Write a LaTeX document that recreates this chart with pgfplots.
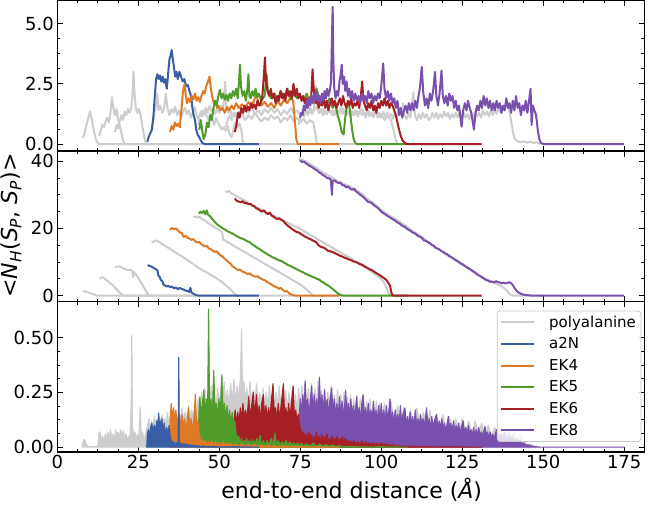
\documentclass[border=0pt]{standalone}
\usepackage{fontspec}
\setmainfont{DejaVu Sans}
\usepackage{pgfplots}
\pgfplotsset{compat=1.18}
\definecolor{cgray}{RGB}{205,205,205}
\definecolor{cblue}{RGB}{57,94,165}
\definecolor{corange}{RGB}{224,121,37}
\definecolor{cgreen}{RGB}{80,155,42}
\definecolor{cred}{RGB}{166,31,36}
\definecolor{cpurple}{RGB}{122,80,174}
\pgfplotsset{
  panel/.style={
    scale only axis, width=587pt, height=150.5pt,
    xmin=0, xmax=181.2,
    xtick={0,25,...,175}, minor x tick num=3, minor y tick num=3,
    tick align=inside, tick pos=both,
    major tick length=5.5pt, minor tick length=3pt,
    tick style={line width=0.8pt, black},
    axis line style={line width=1.1pt},
    tick label style={font=\fontsize{18}{21}\selectfont},
    /pgf/number format/assume math mode=true,
    anchor=south west,
    every axis plot/.append style={line width=2pt, line join=round},
  },
  nox/.style={xticklabels={}, xticklabel style={text opacity=0}},
}
\begin{document}
\begin{tikzpicture}
\path[use as bounding box] (-57.3pt,-52.3pt) rectangle (592.7pt,452pt);
% ---------------- top panel
\begin{axis}[panel, nox, at={(0pt,301pt)}, ymin=-0.285, ymax=5.96, ytick={0,2.5,5},
  yticklabel style={/pgf/number format/.cd, fixed, fixed zerofill, precision=1}]
\addplot[cgray] coordinates {(7.9,0.25)(8.4,0.45)(9.0,0.8)(9.6,1.1)(10.1,1.35)(10.6,1.05)(11.1,0.7)(11.6,0.35)(12.2,0.1)(12.8,0)(30,0)};
\addplot[cgray] coordinates {(12.9,0.35)(13.4,0.55)(13.9,0.8)(14.4,0.7)(14.9,0.95)(15.4,1.1)(15.9,0.9)(16.4,1.3)(16.9,1.95)(17.3,1.5)(17.8,1.2)(18.3,1.45)(18.8,1.0)(19.3,0.75)(19.8,0.45)(20.3,0.15)(20.8,0)(45,0)};
\addplot[cgray] coordinates {(17.8,0.5)(18.3,0.8)(18.8,0.65)(19.3,1.0)(19.8,1.2)(20.3,1.0)(20.8,1.35)(21.3,1.2)(21.8,1.45)(22.3,1.3)(22.8,1.5)(23.2,2.0)(23.5,3.0)(23.8,2.2)(24.2,1.5)(24.7,1.3)(25.2,1.45)(25.7,1.2)(26.2,0.8)(26.7,0.4)(27.2,0.1)(27.8,0)(55,0)};
\addplot[cgray] coordinates {(29.0,0.6)(29.5,0.9)(30.0,1.3)(30.6,1.7)(30.9,2.1)(31.2,1.4)(31.8,1.6)(32.4,1.3)(33.0,1.5)(33.5,2.1)(34.0,1.5)(34.6,1.2)(35.2,1.45)(35.8,1.3)(36.4,1.55)(37.0,1.2)(37.6,1.4)(38.2,1.1)(38.8,1.35)(39.4,1.5)(40.0,1.25)(40.6,1.4)(41.2,1.1)(41.8,1.3)(42.4,1.55)(43.0,1.2)(43.6,1.0)(44.2,1.3)(44.8,1.15)(45.4,1.4)(46.0,1.2)(46.6,1.0)(47.2,1.25)(47.8,1.1)(48.4,0.8)(49.0,1.1)(49.6,0.9)(50.2,0.75)(50.8,0.6)(51.4,0.7)(52.0,0.55)(52.6,0.75)(53.2,0.4)(53.8,0.3)(54.4,0.6)(55.0,0.9)(55.6,0.7)(56.2,0.85)(56.8,0.6)(57.2,0.15)(57.6,0)(75,0)};
\addplot[cgray] coordinates {(43.5,0.8)(44.0,1.2)(44.6,1.4)(45.2,1.2)(45.8,1.5)(46.4,1.3)(47.0,1.6)(47.6,1.35)(48.2,1.5)(48.8,1.25)(49.4,1.5)(50.0,1.3)(50.6,1.6)(51.2,1.4)(51.8,2.6)(52.2,1.5)(52.8,1.3)(53.4,1.4)(54.0,1.2)(55,1.3)(56,1.1)(57,1.25)(58,1.0)(59,1.2)(60,1.05)(61,1.3)(62,1.1)(63,0.95)(64,1.1)(65,1.0)(66,1.2)(67,1.05)(68,1.15)(69,0.9)(70,1.1)(71,1.0)(72,1.2)(73,0.95)(74,1.1)(75,0.9)(76,1.05)(77,0.85)(78,1.0)(79,0.9)(79.6,0.5)(80,0.1)(80.5,0)(100,0)};
\addplot[cgray] coordinates {(52,0.7)(52.6,1.0)(53.2,1.2)(53.8,1.0)(54.4,1.3)(55,1.15)(56,1.35)(57,1.2)(58,1.45)(59,1.3)(60,1.5)(61,1.25)(62,1.4)(63,1.2)(64,1.45)(65,1.3)(66,1.5)(67,1.3)(68,1.45)(69,1.2)(70,1.4)(71,1.25)(72,1.5)(73,1.3)(74,1.4)(75,1.2)(76,1.45)(77,1.3)(78,1.5)(79,1.35)(80,1.55)(81,1.3)(82,1.45)(83,1.25)(84,1.4)(85,1.2)(86,1.4)(87,1.3)(88,1.5)(89,1.3)(90,1.35)(91,1.2)(92,1.4)(93,1.3)(94,1.45)(95,1.25)(96,1.4)(97,1.2)(98,1.35)(99,1.1)(100,1.25)(101,1.0)(102,1.2)(103,1.0)(103.8,0.6)(104.4,0.2)(105,0)(120,0)};
\addplot[cgray] coordinates {(74.5,0.8)(75.0,1.1)(75.6,1.3)(76.2,1.15)(76.8,1.4)(77.4,1.2)(78.0,1.45)(78.6,1.25)(79.2,1.5)(79.8,2.4)(80.2,1.5)(80.8,1.3)(81.4,1.45)(82.0,1.2)(82.6,1.4)(83.2,1.25)(83.8,1.5)(84.4,1.3)(85.0,1.4)(85.6,1.2)(86.2,1.45)(86.8,1.3)(87.4,1.5)(88.0,1.25)(88.6,1.4)(89.2,1.2)(89.8,1.35)(90.4,1.15)(91.0,1.4)(91.6,1.2)(92.2,1.35)(92.8,1.15)(93.4,1.4)(94.0,1.2)(94.6,1.3)(95.2,1.1)(95.8,1.35)(96.4,1.15)(97.0,1.3)(97.6,1.1)(98.2,1.4)(98.8,1.2)(99.4,1.3)(100.0,1.1)(100.6,1.35)(101.2,1.15)(101.8,1.3)(102.4,1.1)(103.0,1.25)(103.6,1.05)(104.2,1.3)(104.8,1.1)(105.4,1.4)(106.0,1.2)(106.7,1.7)(107.2,1.2)(107.8,1.05)(108.4,1.3)(109.0,1.1)(109.9,2.15)(110.4,1.2)(111.0,1.0)(111.6,1.25)(112.2,1.05)(112.8,1.3)(113.4,1.1)(114.0,1.25)(114.6,1.0)(115.2,1.07)(115.8,1.3)(116.4,1.1)(117.0,1.3)(117.6,1.05)(118.2,1.25)(118.8,1.1)(119.4,1.35)(120.0,1.15)(120.6,1.3)(121.2,1.05)(121.8,1.25)(122.4,1.1)(123.0,1.3)(123.6,1.1)(124.2,1.35)(124.8,1.15)(125.4,1.3)(126.0,1.1)(126.6,1.25)(127.2,1.05)(127.8,1.3)(128.4,1.1)(129.0,1.35)(129.6,1.15)(130.2,1.3)(130.8,1.1)(131.4,1.4)(132.0,1.2)(132.6,1.35)(133.2,1.15)(133.8,1.4)(134.4,1.2)(135.0,1.45)(135.6,1.25)(136.2,1.5)(136.8,1.3)(137.4,1.6)(138.0,1.4)(138.7,1.8)(139.3,1.5)(139.8,1.2)(140.3,0.8)(140.8,0.4)(141.3,0.2)(142.0,0.12)(143,0.08)(144,0.12)(145,0.06)(146,0.1)(147,0.05)(148,0.08)(149,0)};
\addplot[cblue] coordinates {(27.8,0.1)(28.2,0.3)(28.7,0.45)(29.2,0.6)(29.7,1.2)(30.1,2.0)(30.5,2.7)(30.9,2.9)(31.3,2.7)(31.7,2.85)(32.1,2.6)(32.5,2.8)(32.9,2.55)(33.3,2.7)(33.8,2.3)(34.2,2.9)(34.6,3.5)(35.0,3.7)(35.3,3.9)(35.6,3.6)(36.0,3.2)(36.4,2.8)(36.8,3.0)(37.2,2.7)(37.7,3.0)(38.2,2.8)(38.7,2.6)(39.2,2.7)(39.8,2.4)(40.3,2.45)(40.8,2.2)(41.3,2.0)(41.7,1.5)(42.1,1.2)(42.5,1.0)(42.9,0.6)(43.3,0.4)(43.8,0.3)(44.3,0.15)(44.8,0.05)(45.5,0)(62.2,0)};
\addplot[corange] coordinates {(34.8,0.5)(35.3,0.75)(35.8,0.6)(36.3,0.9)(36.8,0.75)(37.3,0.85)(37.8,0.7)(38.3,1.4)(38.8,2.2)(39.3,2.5)(39.6,2.1)(40.0,1.7)(40.5,1.9)(41.0,1.75)(41.5,2.0)(42.0,1.85)(42.5,2.1)(43.0,1.8)(43.5,1.95)(44.0,1.75)(44.5,2.0)(45.0,2.2)(45.5,2.1)(46.0,2.4)(46.5,2.6)(47.0,2.8)(47.4,2.3)(47.8,2.0)(48.3,1.7)(48.8,1.8)(49.3,1.5)(49.8,1.6)(50.3,1.4)(51,1.5)(51.7,1.3)(52.4,1.55)(53.1,1.4)(53.8,1.6)(54.5,1.45)(55.2,1.7)(56,1.5)(57,1.65)(58,1.5)(59,1.75)(60,1.6)(61,1.9)(61.5,2.1)(62,1.7)(63,1.6)(64,1.75)(65,1.55)(66,1.7)(67,1.5)(68,1.8)(69,1.6)(70,1.85)(71,1.7)(72,1.95)(72.8,1.8)(73.3,1.0)(73.8,0.2)(74.2,0)(87,0)};
\addplot[cgreen] coordinates {(43.8,0.6)(44.3,1.0)(44.8,0.5)(45.2,0.2)(45.7,0.4)(46.2,0.9)(46.7,0.7)(47.2,1.2)(47.7,1.0)(48.2,1.5)(48.7,1.8)(49.2,1.6)(49.7,2.0)(50.2,2.25)(50.7,1.9)(51.2,2.1)(51.7,1.85)(52.2,2.05)(52.7,1.8)(53.2,2.1)(53.7,1.9)(54.2,2.2)(54.7,2.0)(55.2,2.3)(55.7,1.9)(56.1,2.6)(56.4,3.3)(56.7,2.4)(57.2,2.0)(57.7,2.2)(58.2,1.8)(58.7,2.3)(59.0,2.9)(59.3,2.0)(59.7,1.9)(60.2,2.2)(60.7,2.0)(61.2,2.3)(61.7,1.95)(62.2,2.1)(63,1.8)(64,2.0)(64.6,2.9)(65,2.2)(66,1.9)(67,2.1)(68,1.8)(69,2.2)(70,1.9)(71,2.3)(72,1.85)(73,2.1)(74,1.9)(75,2.0)(76,1.8)(77,2.1)(78,1.7)(79,1.9)(80,2.3)(81,1.8)(82,2.0)(83,1.6)(84,1.9)(85,1.5)(85.8,1.7)(86.5,1.2)(87.2,0.9)(87.8,0.5)(88.4,0.4)(88.8,1.0)(89.4,1.6)(90.0,1.7)(90.5,1.2)(91.0,0.6)(91.5,0.2)(92,0.05)(92.5,0)(108,0)};
\addplot[cred] coordinates {(54.8,0.5)(55.3,0.8)(55.8,1.3)(56.3,1.1)(56.8,1.5)(57.3,1.3)(57.8,1.6)(58.3,1.35)(58.8,1.55)(59.3,1.4)(59.8,1.7)(60.3,1.5)(60.8,1.65)(61.3,1.45)(61.8,1.8)(62.3,1.6)(62.8,1.7)(63.3,2.0)(63.8,2.9)(64.1,3.6)(64.4,2.6)(64.9,2.2)(65.4,2.0)(65.9,2.3)(66.4,1.9)(66.9,2.1)(67.4,1.7)(67.9,2.0)(68.4,1.8)(68.9,2.2)(69.4,1.9)(69.9,2.1)(70.4,1.8)(70.9,2.3)(71.4,2.0)(71.9,2.2)(72.4,1.9)(72.9,2.5)(73.4,2.0)(73.9,2.3)(74.4,1.9)(74.9,2.1)(75.4,1.8)(75.9,2.0)(76.4,1.7)(76.9,1.9)(77.4,1.6)(77.9,1.9)(78.4,2.0)(78.8,3.1)(79.2,2.2)(79.7,1.7)(80.2,1.9)(80.7,1.5)(81.2,1.8)(81.7,1.6)(82.2,1.9)(82.7,1.5)(83.2,1.8)(83.7,1.4)(84.2,1.7)(84.7,1.9)(85.2,1.6)(85.7,1.8)(86.2,1.5)(86.7,1.7)(87.2,1.9)(87.7,1.6)(88.2,2.0)(88.7,1.7)(89.2,1.5)(89.7,1.8)(90.2,1.6)(90.7,1.9)(91.2,1.5)(91.7,1.7)(92.2,1.6)(92.7,1.8)(93.2,1.5)(93.7,2.0)(94.1,2.6)(94.5,1.8)(95,1.6)(95.5,1.4)(96,1.7)(96.5,1.5)(97,1.8)(97.5,1.4)(98,1.6)(98.5,1.3)(99,1.7)(99.5,1.5)(100,1.8)(100.5,1.6)(101,1.9)(101.5,1.6)(102,1.8)(102.5,1.5)(103,1.7)(103.5,1.6)(104,1.4)(104.5,1.2)(105,0.9)(105.5,0.6)(106,0.35)(106.6,0.15)(107.3,0.05)(108,0)(131,0)};
\addplot[cpurple] coordinates {(74.9,1.1)(75.3,1.3)(75.7,1.2)(76.1,1.6)(76.5,1.4)(76.9,1.8)(77.3,1.5)(77.7,1.9)(78.1,1.6)(78.5,2.0)(78.9,1.7)(79.3,2.1)(79.7,1.8)(80.1,2.2)(80.5,1.8)(80.9,2.0)(81.3,1.7)(81.7,2.1)(82.1,1.8)(82.5,2.2)(82.9,1.9)(83.3,2.3)(83.7,2.0)(84.1,2.2)(84.5,2.6)(84.8,4.5)(85.0,5.7)(85.2,3.5)(85.5,2.3)(85.9,1.9)(86.3,2.2)(86.7,2.0)(87.1,2.6)(87.5,2.9)(87.8,3.3)(88.1,2.5)(88.5,2.8)(88.9,2.2)(89.3,2.6)(89.7,2.0)(90.1,2.3)(90.5,1.9)(91,2.2)(91.5,1.8)(92,2.1)(92.5,1.8)(93,2.0)(93.5,1.7)(94,2.1)(94.5,1.8)(95,2.0)(95.5,1.7)(96,2.2)(96.5,1.9)(97,2.1)(97.5,1.7)(98,2.0)(98.5,1.8)(99,2.1)(99.5,1.9)(100,2.4)(100.6,3.35)(101,2.3)(101.5,1.9)(102,2.2)(102.5,1.8)(103,2.1)(103.5,1.7)(104,1.9)(104.5,1.5)(105,1.8)(105.5,1.2)(106,1.5)(106.5,1.1)(107,1.4)(107.5,1.6)(108,1.3)(108.5,1.7)(109,1.4)(109.5,1.7)(110,1.4)(110.5,1.8)(111,1.5)(111.5,2.0)(112,2.4)(112.5,3.2)(113,2.1)(113.5,1.6)(114,1.9)(114.5,1.5)(115,2.1)(115.5,1.8)(116,2.2)(116.6,3.0)(117,2.0)(117.5,1.6)(118,2.1)(118.6,3.05)(119,2.0)(119.5,1.7)(120,2.0)(120.5,1.6)(121,2.1)(121.5,1.8)(122,2.0)(122.5,1.5)(123,1.8)(123.5,1.4)(124,1.6)(124.8,0.72)(125.3,1.4)(125.8,1.7)(126.3,1.4)(126.8,1.8)(127.3,1.5)(127.8,1.3)(128.6,0.6)(129.1,1.3)(129.6,1.6)(130.1,1.4)(130.6,1.8)(131.1,1.5)(131.6,2.0)(132.1,1.6)(132.6,1.9)(133.1,1.5)(133.6,1.8)(134.1,1.4)(134.6,1.7)(135.1,1.4)(135.6,1.8)(136.1,1.5)(136.6,1.7)(137.1,1.3)(137.6,1.6)(138.1,1.4)(138.6,1.9)(139.1,1.5)(139.6,1.7)(140.1,1.3)(140.6,1.8)(141.1,1.4)(141.6,2.0)(142.1,1.5)(142.6,1.7)(143.1,1.2)(143.6,1.6)(144.1,1.4)(144.6,1.8)(145.1,1.3)(145.6,1.8)(146.1,2.3)(146.4,0.8)(146.8,1.6)(147.3,1.4)(147.8,1.2)(148.3,0.6)(148.8,0.2)(149.3,0.05)(150,0)(175,0)};
\end{axis}
% ---------------- middle panel
\begin{axis}[panel, nox, at={(0pt,150.5pt)}, ymin=-1.75, ymax=43.04, ytick={0,20,40}]
\addplot[cgray] coordinates {(8.0,1.4)(8.5,1.3)(9.2,1.0)(9.9,0.8)(10.6,0.6)(11.3,0.4)(11.9,0.1)(12.4,0)(30,0)};
\addplot[cgray] coordinates {(13.0,5.0)(13.5,5.3)(14.0,5.5)(14.6,5.0)(15.2,4.6)(15.8,4.2)(16.4,3.6)(17.0,3.2)(17.6,2.6)(18.2,2.0)(18.8,1.4)(19.4,0.8)(20.0,0.3)(20.6,0)(45,0)};
\addplot[cgray] coordinates {(17.8,8.4)(18.3,8.6)(18.9,8.7)(19.5,8.6)(20.1,8.3)(20.7,7.9)(21.3,7.8)(21.9,7.6)(22.5,7.7)(23.1,7.4)(23.4,5.5)(23.7,7.0)(24.3,6.3)(24.9,5.4)(25.5,4.5)(26.1,3.5)(26.7,2.5)(27.3,1.5)(27.9,0.5)(28.5,0)(55,0)};
\addplot[cgray] coordinates {(29.1,15.8)(29.6,16.0)(30.1,16.3)(30.6,16.4)(31.1,16.2)(31.7,15.8)(32.3,15.4)(32.9,15.0)(33.5,14.7)(34.1,14.3)(34.7,14.0)(35.3,13.6)(35.9,13.2)(36.5,12.8)(37.1,12.5)(37.7,12.1)(38.3,11.8)(38.9,11.4)(39.5,11.0)(40.1,10.6)(40.7,10.2)(41.3,9.8)(41.9,9.4)(42.5,9.0)(43.1,8.6)(43.7,8.2)(44.3,7.9)(44.9,7.5)(45.5,7.2)(46.1,6.9)(46.7,6.6)(47.3,6.2)(47.9,5.9)(48.5,5.5)(49.1,5.2)(49.7,4.8)(50.3,4.4)(50.9,4.0)(51.5,3.5)(52.1,3.0)(52.7,2.5)(53.3,2.0)(53.9,1.4)(54.5,0.8)(55.0,0.3)(55.6,0)(75,0)};
\addplot[cgray] coordinates {(42.0,23.3)(42.6,23.6)(43.2,23.2)(43.8,23.5)(44.4,23.0)(45.0,22.6)(45.6,22.4)(46.2,21.8)(46.8,21.5)(47.4,21.0)(48.0,20.8)(48.6,20.3)(49.2,20.0)(49.8,19.6)(50.4,19.2)(50.9,18.8)(51.2,16.6)(51.8,16.4)(52.4,16.0)(53,15.7)(54,15.1)(55,14.5)(56,14.0)(57,13.4)(58,12.9)(59,12.3)(60,11.7)(61,11.2)(62,10.6)(63,10.1)(64,9.5)(65,8.9)(66,8.4)(67,7.8)(68,7.3)(69,6.7)(70,6.1)(71,5.6)(72,5.0)(73,4.4)(74,3.9)(75,3.3)(76,2.6)(77,1.8)(77.8,1.0)(78.5,0.4)(79.2,0)(100,0)};
\addplot[cgray] coordinates {(51.8,31.0)(52.4,30.8)(53.0,31.2)(53.6,30.5)(54.2,30.3)(54.8,29.9)(55.6,29.5)(56.4,29.0)(57.2,28.7)(58.0,28.2)(59,27.6)(60,27.0)(61,26.6)(62,26.0)(63,25.6)(64,25.1)(65,24.6)(66,24.2)(67,23.6)(68,23.2)(69,22.7)(70,22.2)(71,21.8)(72,21.3)(73,20.8)(74,20.4)(75,19.8)(76,19.3)(77,18.7)(78,18.2)(79,17.6)(80,17.0)(81,16.4)(82,15.9)(83,15.3)(84,14.8)(85,14.2)(86,13.6)(87,13.1)(88,12.5)(89,12.0)(90,11.4)(91,10.8)(92,10.2)(93,9.6)(94,9.0)(95,8.4)(96,7.8)(97,7.1)(98,6.4)(99,5.7)(100,4.9)(100.8,4.0)(101.4,2.8)(101.9,1.6)(102.4,0.5)(103,0)(120,0)};
\addplot[cgray] coordinates {(74.6,40.8)(76,40.3)(78,39.2)(80,38.0)(82,36.6)(84,35.6)(86,34.4)(88,33.4)(90,32.6)(92,31.6)(94,30.3)(96,28.6)(98,27.2)(100,25.5)(102,24.2)(104,23.0)(106,21.8)(108,20.5)(110,19.0)(112,17.9)(114,16.4)(116,14.8)(118,13.6)(120,12.2)(122,11.0)(124,9.8)(126,8.6)(128,7.4)(130,6.0)(132,5.0)(134,4.2)(136,3.3)(137,2.9)(138,2.2)(138.8,1.5)(139.5,0.6)(140.2,0.1)(141,0)(150,0)};
\addplot[cblue] coordinates {(27.9,9.1)(28.5,8.8)(29.2,8.6)(29.8,8.2)(30.4,7.9)(30.9,7.5)(31.2,6.0)(31.6,5.6)(32.0,4.6)(32.4,4.4)(32.8,3.2)(33.3,3.0)(33.8,2.7)(34.3,2.9)(34.8,2.5)(35.4,2.7)(36.0,2.2)(36.6,2.4)(37.2,1.9)(37.8,2.3)(38.4,2.0)(39.0,1.8)(39.6,1.5)(40.2,1.4)(40.7,1.1)(41.1,2.3)(41.4,1.0)(41.9,0.6)(42.5,0.3)(43.0,0.1)(43.6,0)(62.2,0)};
\addplot[corange] coordinates {(34.8,19.6)(35.4,20.1)(36.0,19.8)(36.6,20.0)(37.2,19.5)(37.8,18.8)(38.4,18.7)(39.0,17.5)(39.6,17.8)(40.2,17.2)(40.8,17.0)(41.4,16.6)(42.0,16.8)(42.6,16.2)(43.2,15.8)(43.8,16.0)(44.4,15.3)(45.0,15.0)(45.6,14.6)(46.2,14.8)(46.8,14.0)(47.4,13.8)(48.0,13.4)(48.6,13.0)(49.2,13.2)(49.8,12.5)(50.4,12.0)(51.0,11.6)(51.6,11.0)(52.2,10.6)(52.8,10.0)(53.4,9.6)(54.0,8.8)(54.6,8.4)(55.2,8.0)(55.8,7.6)(56.4,7.8)(57.0,7.2)(57.6,7.0)(58.2,6.7)(58.8,6.4)(59.4,6.6)(60.0,6.1)(60.6,5.9)(61.2,5.6)(61.8,5.8)(62.4,5.3)(63.0,5.0)(63.6,4.7)(64.2,4.5)(64.8,4.0)(65.4,3.7)(66.0,3.4)(66.6,3.0)(67.2,2.7)(67.8,2.5)(68.4,2.0)(69.0,2.3)(69.6,1.7)(70.2,1.2)(70.8,1.4)(71.4,0.8)(72.0,0.4)(72.6,0.2)(73.2,0.05)(73.8,0)(87,0)};
\addplot[cgreen] coordinates {(43.7,24.4)(44.2,25.0)(44.7,24.6)(45.2,25.2)(45.7,24.2)(46.1,25.4)(46.6,24.0)(47.2,23.6)(47.8,22.8)(48.4,22.2)(49.0,21.5)(49.6,21.0)(50.2,20.6)(50.8,20.2)(51.4,19.8)(52.0,19.6)(52.6,19.1)(53.2,18.9)(53.8,18.6)(54.4,18.3)(55.0,17.9)(55.6,17.6)(56.2,17.3)(56.8,17.0)(57.4,16.9)(58.0,16.5)(58.6,16.2)(59.2,16.0)(59.8,15.6)(60.4,15.1)(61.0,14.8)(61.6,14.3)(62.2,14.0)(62.8,13.6)(63.4,13.2)(64.0,12.8)(64.6,12.5)(65.2,12.1)(65.8,11.8)(66.4,11.4)(67.0,11.2)(67.6,10.9)(68.2,10.6)(68.8,10.4)(69.4,10.2)(70.0,9.8)(70.6,9.5)(71.2,9.1)(71.8,8.9)(72.4,8.6)(73.0,8.3)(73.6,8.0)(74.2,7.7)(74.8,7.4)(75.4,7.1)(76.0,6.9)(76.6,6.5)(77.2,6.3)(77.8,6.0)(78.4,5.8)(79.0,5.5)(79.6,5.3)(80.2,5.0)(80.8,4.8)(81.4,4.3)(82.0,4.0)(82.6,3.6)(83.2,3.2)(83.8,2.9)(84.4,2.4)(85.0,2.0)(85.6,1.5)(86.2,1.0)(86.8,0.5)(87.4,0.2)(88.0,0.05)(88.5,0)(108,0)};
\addplot[cred] coordinates {(54.8,28.9)(55.4,28.2)(56.0,28.0)(56.6,27.8)(57.2,28.1)(57.8,27.5)(58.4,27.6)(59.0,27.2)(59.6,27.3)(60.2,26.8)(60.8,26.6)(61.4,26.0)(62.0,25.8)(62.6,25.3)(63.2,25.0)(63.8,25.4)(64.4,24.6)(65.0,24.3)(65.6,24.7)(66.2,23.8)(66.8,23.5)(67.4,23.0)(68.0,22.8)(68.6,23.0)(69.2,22.5)(69.8,22.2)(70.4,21.5)(71.0,20.9)(71.6,20.5)(72.2,20.0)(72.8,19.6)(73.4,19.2)(74.0,18.9)(74.6,18.8)(75.2,18.3)(75.8,18.0)(76.4,17.6)(77.0,17.3)(77.6,17.0)(78.2,16.8)(78.8,16.4)(79.4,16.2)(80.0,15.8)(80.6,15.0)(81.2,14.6)(81.8,14.4)(82.4,14.2)(83.0,13.8)(83.6,13.3)(84.2,13.2)(84.8,13.0)(85.4,12.8)(86.0,12.5)(86.6,12.2)(87.2,11.9)(87.8,11.7)(88.4,11.4)(89.0,11.2)(89.6,10.9)(90.2,10.7)(90.8,10.5)(91.4,10.2)(92.0,10.0)(92.6,9.8)(93.2,9.5)(93.8,9.3)(94.4,9.0)(95.0,8.6)(95.6,8.3)(96.2,8.0)(96.8,7.7)(97.4,7.4)(98.0,7.0)(98.6,6.6)(99.2,6.3)(99.8,5.9)(100.4,5.5)(101.0,5.1)(101.6,4.6)(102.2,3.8)(102.7,3.0)(103.0,1.5)(103.3,0.3)(103.8,0)(131,0)};
\addplot[cpurple] coordinates {(74.9,40.3)(75.5,39.8)(76.1,39.9)(76.7,39.4)(77.3,39.0)(77.9,38.6)(78.5,38.3)(79.1,37.9)(79.7,37.5)(80.3,37.2)(80.9,36.6)(81.5,36.3)(82.1,35.8)(82.7,35.5)(83.3,35.0)(83.9,34.9)(84.4,34.6)(84.8,30.0)(85.0,34.2)(85.6,34.3)(86.2,33.8)(86.8,33.5)(87.4,33.6)(88.0,32.9)(88.6,32.8)(89.2,32.2)(89.8,32.5)(90.4,31.8)(91.0,31.5)(91.6,31.8)(92.2,31.0)(92.8,30.6)(93.4,30.1)(94.0,29.7)(94.6,29.2)(95.2,28.6)(95.8,28.0)(96.4,27.8)(97.0,27.6)(97.6,27.0)(98.2,26.6)(98.8,26.2)(99.4,25.6)(100.0,25.0)(100.6,24.6)(101.2,24.2)(101.8,23.8)(102.4,23.4)(103.0,23.1)(103.6,22.7)(104.2,22.4)(104.8,21.9)(105.4,21.6)(106.0,21.2)(106.6,20.7)(107.2,20.5)(107.8,20.0)(108.4,19.6)(109.0,19.3)(109.6,18.8)(110.2,18.6)(110.8,18.2)(111.4,17.7)(112.0,17.5)(112.6,17.1)(113.2,16.4)(113.8,16.3)(114.4,15.9)(115.0,15.6)(115.6,15.1)(116.2,14.9)(116.8,14.2)(117.4,14.0)(118.0,13.7)(118.6,13.2)(119.2,13.0)(119.8,12.5)(120.4,12.3)(121.0,11.8)(121.6,11.5)(122.2,11.1)(122.8,10.7)(123.4,10.4)(124.0,10.0)(124.6,9.6)(125.2,9.3)(125.8,8.8)(126.4,8.5)(127.0,8.1)(127.6,7.8)(128.2,7.3)(128.8,7.0)(129.4,6.5)(130.0,6.1)(130.6,5.8)(131.2,5.4)(131.8,5.0)(132.4,4.6)(133.0,4.5)(133.6,4.1)(134.2,4.2)(134.8,3.9)(135.4,4.3)(136.0,4.0)(136.6,3.9)(137.2,3.7)(137.8,3.9)(138.4,3.6)(139.0,3.8)(139.6,4.0)(140.2,3.6)(140.7,3.0)(141.2,2.2)(141.8,1.4)(142.4,0.9)(143.0,0.6)(143.8,0.3)(144.6,0.2)(145.5,0.1)(146.5,0)(175,0)};
\end{axis}
% ---------------- bottom panel
\begin{axis}[panel, at={(0pt,0pt)}, ymin=-0.022, ymax=0.665, ytick={0,0.25,0.5},
  yticklabel style={/pgf/number format/.cd, fixed, fixed zerofill, precision=2},
  legend style={at={(1,1)}, anchor=north east, xshift=-3pt, yshift=-9pt,
    font=\fontsize{15}{18}\selectfont, draw=black!22, line width=0.8pt,
    rounded corners=3pt, fill=white, fill opacity=0.8, text opacity=1, draw opacity=1,
    inner xsep=3pt, inner ysep=3pt, row sep=5pt,
    /tikz/every odd column/.append style={column sep=12pt}},
  legend cell align=left,
  legend image code/.code={\draw[#1, line width=2pt] (0pt,0pt) -- (33pt,0pt);}]
\addplot[cgray, fill=cgray, line width=1.1pt, forget plot] coordinates {(7.6,0)(7.9,0.02)(8.2,0.035)(8.6,0.03)(9.0,0.012)(9.5,0.003)(12.5,0.002)(12.8,0.06)(13.2,0.07)(13.6,0.03)(14.0,0.05)(14.4,0.02)(14.8,0.06)(15.2,0.04)(15.6,0.07)(16.0,0.03)(16.4,0.08)(16.8,0.04)(17.2,0.06)(17.6,0.03)(18.0,0.08)(18.4,0.05)(18.8,0.07)(19.2,0.04)(19.6,0.08)(20.0,0.05)(20.4,0.075)(20.8,0.04)(21.2,0.06)(21.6,0.03)(22.0,0.05)(22.4,0.04)(22.8,0.2)(23.0,0.51)(23.2,0.1)(23.6,0.05)(24.0,0.07)(24.4,0.03)(24.8,0.06)(25.2,0.04)(25.6,0.18)(25.9,0.05)(26.3,0.07)(26.7,0.03)(27.1,0.05)(27.5,0.08)(27.9,0.1)(28.3,0.13)(28.7,0.08)(29.1,0.12)(29.5,0.09)(30.0,0.14)(30.4,0.1)(30.8,0.13)(31.2,0.09)(31.6,0.14)(32.0,0.1)(32.4,0.15)(32.8,0.1)(33.2,0.13)(33.6,0.09)(34.0,0.16)(34.4,0.1)(34.8,0.14)(35.2,0.1)(35.6,0.15)(36.0,0.11)(36.5,0.17)(37.0,0.12)(37.5,0.16)(38.0,0.12)(38.5,0.18)(39.0,0.12)(39.5,0.16)(40.0,0.12)(40.5,0.19)(41.0,0.13)(41.5,0.17)(42.0,0.12)(42.5,0.2)(43.0,0.14)(43.5,0.22)(44.0,0.15)(44.5,0.25)(45.0,0.16)(45.5,0.27)(46.0,0.17)(46.5,0.24)(47.0,0.17)(47.5,0.28)(48.0,0.18)(48.5,0.25)(49.0,0.18)(49.5,0.27)(50.0,0.19)(50.5,0.28)(51.0,0.18)(51.5,0.3)(52.0,0.2)(52.5,0.26)(53.0,0.19)(53.5,0.29)(54.0,0.2)(54.5,0.31)(55.0,0.2)(55.5,0.28)(56.0,0.21)(56.5,0.32)(56.9,0.54)(57.2,0.22)(57.6,0.3)(58.0,0.21)(58.5,0.27)(59.0,0.2)(59.5,0.3)(60.0,0.2)(60.5,0.26)(61.0,0.2)(61.5,0.29)(62.0,0.2)(62.5,0.25)(63.0,0.19)(63.5,0.27)(64.0,0.18)(64.5,0.25)(65.0,0.19)(65.5,0.28)(66.0,0.18)(66.5,0.26)(67.0,0.18)(67.5,0.25)(68.0,0.18)(68.5,0.28)(69.0,0.18)(69.5,0.24)(70.0,0.18)(70.5,0.26)(71.0,0.17)(71.5,0.25)(72.0,0.17)(72.5,0.26)(73.0,0.17)(73.5,0.24)(74.0,0.17)(74.5,0.27)(75.0,0.18)(75.5,0.28)(76.0,0.18)(76.5,0.31)(77.0,0.18)(77.5,0.27)(78.0,0.18)(78.5,0.29)(79.0,0.18)(79.5,0.27)(80.0,0.19)(80.5,0.3)(81.0,0.18)(81.5,0.26)(82.0,0.17)(82.5,0.27)(83.0,0.17)(83.5,0.25)(84.0,0.17)(84.5,0.28)(85.0,0.16)(85.5,0.24)(86.0,0.16)(86.5,0.26)(87.0,0.16)(87.5,0.24)(88.0,0.15)(88.5,0.25)(89.0,0.16)(89.5,0.23)(90.0,0.15)(90.5,0.24)(91.0,0.15)(91.5,0.22)(92.0,0.14)(92.5,0.24)(93.0,0.14)(93.5,0.22)(94.0,0.14)(94.5,0.23)(95.0,0.14)(95.5,0.21)(96.0,0.13)(96.5,0.22)(97.0,0.13)(97.5,0.2)(98.0,0.13)(98.5,0.21)(99.0,0.12)(99.5,0.2)(100,0.12)(101,0.2)(102,0.12)(103,0.21)(104,0.11)(105,0.19)(106,0.11)(107,0.18)(108,0.1)(109,0.17)(110,0.1)(111,0.18)(112,0.1)(113,0.16)(114,0.09)(115,0.17)(116,0.09)(117,0.15)(118,0.08)(119,0.15)(120,0.08)(121,0.14)(122,0.08)(123,0.13)(124,0.07)(125,0.13)(126,0.07)(127,0.12)(128,0.06)(129,0.12)(130,0.06)(131,0.11)(132,0.06)(133,0.1)(134,0.05)(135,0.09)(136,0.05)(137,0.09)(138,0.04)(139,0.08)(140,0.04)(141,0.07)(142,0.03)(143,0.06)(143.5,0.02)(144,0.03)(145,0.01)(146,0.015)(147,0.005)(149,0)} \closedcycle;
\addplot[cpurple, fill=cpurple, line width=1.1pt, forget plot] coordinates {(74.4,0)(74.6,0.12)(75.0,0.22)(75.4,0.15)(75.8,0.24)(76.2,0.16)(76.5,0.30)(76.9,0.17)(77.3,0.22)(77.7,0.15)(78.1,0.21)(78.5,0.28)(78.9,0.16)(79.3,0.24)(79.7,0.17)(80.1,0.22)(80.5,0.15)(80.9,0.32)(81.3,0.17)(81.7,0.24)(82.1,0.15)(82.5,0.26)(82.9,0.16)(83.3,0.22)(83.7,0.14)(84.1,0.21)(84.7,0.27)(85.1,0.15)(85.5,0.22)(85.9,0.14)(86.3,0.2)(86.7,0.13)(87.1,0.23)(87.5,0.15)(87.9,0.21)(88.3,0.14)(88.7,0.19)(89.0,0.26)(89.4,0.15)(89.8,0.2)(90.2,0.13)(90.6,0.22)(91.0,0.14)(91.4,0.19)(91.8,0.13)(92.4,0.23)(92.8,0.14)(93.2,0.18)(93.6,0.12)(94.0,0.2)(94.4,0.24)(94.8,0.13)(95.2,0.18)(95.6,0.12)(96.0,0.2)(96.4,0.13)(96.8,0.17)(97.2,0.12)(97.6,0.21)(98.0,0.13)(98.4,0.17)(98.8,0.11)(99.2,0.19)(99.6,0.12)(100.0,0.2)(100.4,0.12)(100.8,0.17)(101.2,0.11)(101.6,0.19)(102.0,0.12)(102.7,0.22)(103.1,0.12)(103.5,0.16)(103.9,0.1)(104.3,0.17)(104.7,0.11)(105.1,0.15)(105.5,0.1)(105.9,0.19)(106.3,0.11)(106.7,0.15)(107.3,0.18)(107.7,0.1)(108.1,0.14)(108.5,0.09)(108.9,0.16)(109.3,0.1)(109.7,0.14)(110.1,0.09)(110.5,0.17)(110.9,0.1)(111.3,0.13)(111.7,0.09)(112.1,0.15)(112.5,0.1)(112.9,0.13)(113.3,0.09)(114.0,0.18)(114.4,0.09)(114.8,0.13)(115.2,0.08)(115.6,0.14)(116.0,0.09)(116.4,0.12)(117.1,0.15)(117.5,0.08)(117.9,0.12)(118.3,0.08)(118.7,0.13)(119.1,0.08)(119.5,0.11)(119.9,0.07)(120.7,0.14)(121.1,0.08)(121.5,0.11)(121.9,0.07)(122.3,0.12)(122.7,0.07)(123.1,0.1)(123.5,0.07)(123.9,0.11)(124.3,0.06)(124.7,0.09)(125.3,0.12)(125.7,0.06)(126.1,0.09)(126.5,0.06)(126.9,0.1)(127.3,0.06)(127.7,0.08)(128.1,0.05)(128.5,0.09)(128.9,0.05)(129.3,0.08)(129.7,0.05)(130.1,0.09)(130.5,0.05)(130.9,0.07)(131.3,0.05)(132.0,0.095)(132.4,0.05)(132.8,0.07)(133.2,0.04)(133.6,0.07)(134.0,0.04)(134.4,0.06)(134.8,0.04)(135.6,0.08)(136.0,0.04)(136.4,0.06)(136.8,0.03)(137.2,0.06)(137.6,0.03)(138.0,0.07)(138.4,0.03)(138.8,0.05)(139.2,0.03)(139.6,0.06)(140.0,0.03)(140.4,0.05)(140.8,0.02)(141.2,0.04)(141.6,0.02)(142.0,0.04)(142.5,0.02)(143.0,0.03)(143.5,0.015)(144.0,0.02)(144.5,0.01)(145.5,0.01)(146.5,0.005)(147.5,0.003)(148.5,0)(175,0)} \closedcycle;
\addplot[cred, fill=cred, line width=1.1pt, forget plot] coordinates {(54.3,0)(54.5,0.12)(54.9,0.17)(55.3,0.1)(55.7,0.16)(56.1,0.11)(56.5,0.18)(56.9,0.12)(57.3,0.2)(57.7,0.13)(58.1,0.17)(58.5,0.12)(59.1,0.23)(59.5,0.13)(59.9,0.18)(60.5,0.25)(60.9,0.14)(61.5,0.24)(61.9,0.13)(62.3,0.19)(62.7,0.12)(63.1,0.2)(63.6,0.24)(64.0,0.13)(64.4,0.19)(64.8,0.12)(65.2,0.18)(65.6,0.13)(66.0,0.2)(66.6,0.29)(67.0,0.14)(67.4,0.18)(67.8,0.12)(68.2,0.2)(68.6,0.13)(69.0,0.18)(69.8,0.29)(70.2,0.13)(70.6,0.18)(71.0,0.12)(71.4,0.2)(71.8,0.13)(72.2,0.19)(72.8,0.28)(73.2,0.13)(73.6,0.17)(74.0,0.12)(74.4,0.15)(74.8,0.1)(75.2,0.08)(75.6,0.05)(76.0,0.07)(76.4,0.04)(76.8,0.06)(77.2,0.03)(77.6,0.07)(78.0,0.04)(78.4,0.06)(78.8,0.03)(79.2,0.05)(79.6,0.03)(80.0,0.07)(80.4,0.03)(80.8,0.05)(81.2,0.02)(81.6,0.06)(82.0,0.03)(82.4,0.05)(82.8,0.02)(83.2,0.06)(83.6,0.03)(84.0,0.04)(84.4,0.02)(84.8,0.05)(85.2,0.02)(85.6,0.04)(86.0,0.02)(86.4,0.05)(86.8,0.02)(87.2,0.04)(87.6,0.02)(88.0,0.05)(88.4,0.02)(88.8,0.04)(89.2,0.02)(89.6,0.035)(90.0,0.015)(90.4,0.03)(91,0.015)(91.6,0.03)(92.2,0.012)(92.8,0.025)(93.4,0.01)(94.0,0.03)(94.6,0.01)(95.2,0.025)(95.8,0.01)(96.4,0.02)(97.0,0.01)(97.6,0.02)(98.2,0.008)(98.8,0.018)(99.4,0.008)(100.0,0.02)(100.6,0.008)(101.2,0.015)(101.8,0.006)(102.4,0.014)(103.0,0.005)(103.6,0.012)(104.2,0.004)(105,0.008)(106,0.003)(107,0.006)(108,0.002)(110,0.005)(112,0.002)(114,0.004)(116,0.001)(120,0.002)(125,0.001)(131,0)} \closedcycle;
\addplot[cgreen, fill=cgreen, line width=1.1pt, forget plot] coordinates {(43.5,0)(43.7,0.15)(44.0,0.23)(44.4,0.14)(44.8,0.2)(45.2,0.26)(45.6,0.15)(46.0,0.22)(46.4,0.16)(46.7,0.63)(47.0,0.17)(47.4,0.22)(47.8,0.14)(48.3,0.35)(48.7,0.15)(49.1,0.2)(49.5,0.13)(49.9,0.22)(50.3,0.14)(50.8,0.33)(51.2,0.14)(51.6,0.2)(52.0,0.12)(52.4,0.19)(52.8,0.11)(53.2,0.17)(53.6,0.1)(54.0,0.16)(54.4,0.09)(54.8,0.12)(55.2,0.06)(55.6,0.04)(56.0,0.05)(56.4,0.02)(56.8,0.04)(57.2,0.02)(57.6,0.03)(58.0,0.015)(58.4,0.04)(58.8,0.015)(59.2,0.03)(59.6,0.01)(60,0.035)(60.4,0.01)(60.8,0.03)(61.2,0.01)(61.6,0.04)(62.0,0.01)(62.6,0.055)(63.0,0.01)(63.6,0.03)(64.2,0.01)(64.8,0.03)(65.4,0.01)(66.0,0.04)(66.6,0.01)(67.2,0.065)(67.6,0.01)(68.2,0.03)(68.8,0.01)(69.4,0.025)(70.0,0.01)(70.6,0.03)(71.2,0.01)(71.8,0.025)(72.4,0.01)(73,0.02)(73.6,0.008)(74.2,0.02)(74.8,0.008)(75.4,0.018)(76,0.006)(77,0.015)(78,0.005)(79,0.02)(80,0.005)(81,0.014)(82,0.004)(83,0.012)(84,0.004)(85,0.01)(86,0.003)(87,0.008)(88,0.002)(90,0.004)(94,0.001)(100,0.002)(108,0)} \closedcycle;
\addplot[corange, fill=corange, line width=1.1pt, forget plot] coordinates {(34.7,0)(34.9,0.15)(35.2,0.2)(35.5,0.12)(35.9,0.18)(36.3,0.11)(36.6,0.17)(37.0,0.1)(37.4,0.14)(37.8,0.09)(38.2,0.13)(38.5,0.15)(38.9,0.09)(39.3,0.13)(39.7,0.08)(40.1,0.12)(40.5,0.18)(40.9,0.09)(41.3,0.13)(41.7,0.08)(42.1,0.12)(42.6,0.24)(43.0,0.1)(43.4,0.12)(43.8,0.06)(44.2,0.04)(44.6,0.02)(45.0,0.035)(45.4,0.01)(45.8,0.03)(46.2,0.01)(46.6,0.025)(47.0,0.01)(47.6,0.03)(48.2,0.01)(48.8,0.025)(49.4,0.008)(50.0,0.02)(50.6,0.008)(51.2,0.025)(51.8,0.008)(52.4,0.02)(53.0,0.006)(53.6,0.018)(54.2,0.006)(55,0.015)(56,0.005)(57,0.015)(58,0.004)(59,0.012)(60,0.004)(61,0.012)(62,0.003)(63,0.01)(64,0.003)(65,0.01)(66,0.002)(67,0.008)(68,0.002)(70,0.006)(72,0.002)(74,0.004)(76,0.001)(80,0.002)(87,0)} \closedcycle;
\addplot[cblue, fill=cblue, line width=1.1pt, forget plot] coordinates {(27.6,0)(27.8,0.06)(28.1,0.08)(28.4,0.05)(28.8,0.09)(29.2,0.11)(29.5,0.06)(29.9,0.1)(30.3,0.07)(30.7,0.12)(31.0,0.08)(31.3,0.155)(31.6,0.09)(32.0,0.12)(32.3,0.13)(32.6,0.07)(33.0,0.11)(33.4,0.06)(33.8,0.09)(34.2,0.05)(34.5,0.1)(34.9,0.04)(35.3,0.03)(35.7,0.015)(36.1,0.025)(36.5,0.01)(36.9,0.02)(37.3,0.01)(37.5,0.41)(37.7,0.01)(38.1,0.02)(38.5,0.008)(39.0,0.018)(39.5,0.006)(40.0,0.015)(40.5,0.005)(41.0,0.012)(41.5,0.004)(42.0,0.01)(42.5,0.004)(43.0,0.008)(44,0.003)(45,0.006)(46,0.002)(48,0.004)(50,0.001)(55,0.002)(62.2,0)} \closedcycle;
\addlegendimage{cgray}\addlegendentry{polyalanine}
\addlegendimage{cblue}\addlegendentry{a2N}
\addlegendimage{corange}\addlegendentry{EK4}
\addlegendimage{cgreen}\addlegendentry{EK5}
\addlegendimage{cred}\addlegendentry{EK6}
\addlegendimage{cpurple}\addlegendentry{EK8}
\end{axis}
\node[rotate=90, font=\fontsize{22}{26}\selectfont] at (-46.3pt,226.5pt) {<\textit{N}\textsubscript{\textit{H}}(\textit{S}\textsubscript{\textit{P}}, \textit{S}\textsubscript{\textit{P}})>};
\node[anchor=base, font=\fontsize{22}{26}\selectfont] at (294.4pt,-46.3pt) {end-to-end distance (\textit{Å})};
\end{tikzpicture}
\end{document}
